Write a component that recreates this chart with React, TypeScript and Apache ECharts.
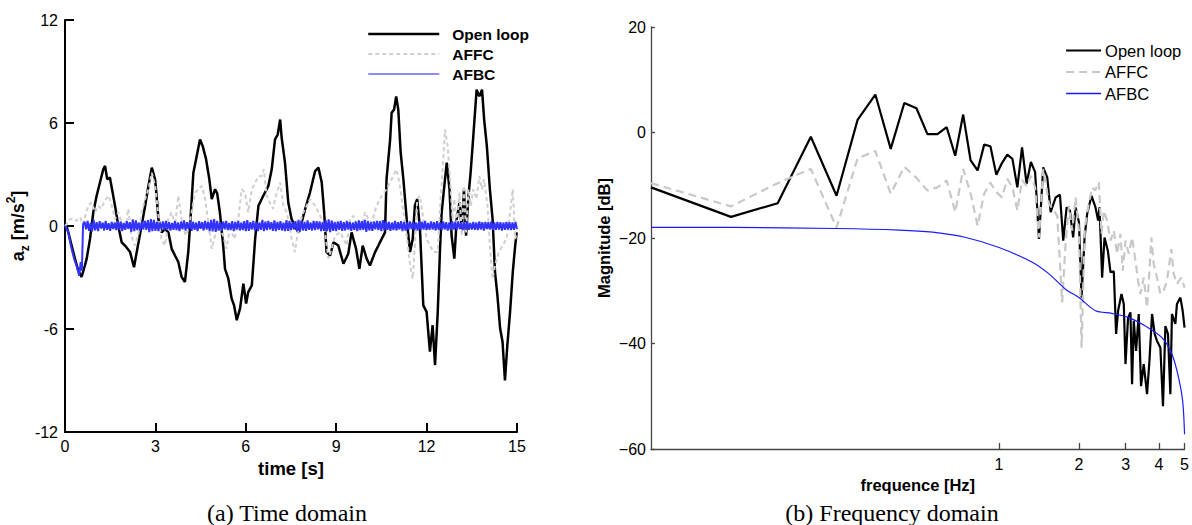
import React, { useEffect, useRef } from "react";
import * as echarts from "echarts";

// ---------- (a) Time domain ----------
const timeOpenLoop = [0,0.05,0.11,0.22,0.33,0.44,0.55,0.66,0.72,0.83,0.94,1.05,1.16,1.27,1.33,1.4,1.49,1.6,1.66,1.77,1.88,1.99,2.16,2.29,2.4,2.54,2.66,2.77,2.88,2.99,3.04,3.1,3.21,3.32,3.43,3.54,3.65,3.76,3.87,3.98,4.09,4.15,4.26,4.37,4.48,4.57,4.68,4.79,4.87,4.98,5.05,5.14,5.25,5.31,5.42,5.53,5.61,5.7,5.81,5.92,6.01,6.08,6.2,6.31,6.42,6.58,6.75,6.86,6.97,7.06,7.14,7.19,7.3,7.41,7.52,7.63,7.74,7.85,7.97,8.13,8.3,8.41,8.52,8.6,8.68,8.8,8.91,9.07,9.24,9.4,9.51,9.66,9.77,9.88,10.01,10.12,10.29,10.4,10.51,10.62,10.67,10.79,10.84,10.92,10.99,11.06,11.14,11.23,11.34,11.45,11.54,11.61,11.69,11.78,11.89,12.0,12.11,12.2,12.28,12.37,12.45,12.5,12.61,12.67,12.76,12.83,12.92,13.0,13.09,13.17,13.24,13.31,13.39,13.46,13.55,13.66,13.75,13.84,13.91,14.0,14.1,14.19,14.27,14.35,14.44,14.52,14.6,14.68,14.77,14.86,14.94,14.99];
const accOpenLoop = [0,0,-0.37,-1.14,-1.9,-2.6,-2.97,-2.3,-1.9,-0.75,0.8,1.76,2.53,3.3,3.5,2.72,2.82,1.76,1.18,0,-0.95,-1.14,-1.52,-2.4,-1.33,0,1.18,2.34,3.4,2.72,1.76,0.4,-0.37,-0.17,-0.37,-1.33,-1.72,-2.1,-2.97,-3.26,-1.52,0,3.1,4.07,5.04,4.65,3.9,2.72,1.57,2.14,1.9,0.8,-1.14,-2.5,-3.07,-4.23,-4.62,-5.49,-4.8,-3.36,-4.52,-3.85,-3.46,-0.75,1.18,1.76,2.34,3.3,5.04,5.33,6.2,5.14,3.69,1.37,0.4,0,-0.37,0.2,0.98,1.95,3.2,3.4,2.53,0.8,-1.52,-1.72,-0.95,-1.14,-2.2,-1.62,-0.37,-1.33,-2.5,-1.14,-1.9,-2.3,-1.52,-1.14,-0.75,-0.37,2.72,5.04,6.6,6.78,7.55,6.78,4.27,2.72,0.4,-1.52,-0.75,1.18,1.57,-0.17,-4.62,-5.0,-7.32,-5.78,-8.1,-5.0,-1.14,0.8,2.72,3.69,2.14,-0.56,-1.9,0.4,1.37,-0.17,2.14,-0.56,1.76,3.1,5.24,7.94,7.55,7.94,6.2,4.65,2.14,0.4,-2.68,-4.04,-5.97,-6.74,-9.0,-6.94,-5.0,-2.68,-1.14,-0.37];

const timeAFFC = [0,0.05,0.17,0.28,0.39,0.5,0.6,0.77,0.88,1.0,1.1,1.2,1.33,1.45,1.55,1.66,1.77,1.88,2.0,2.1,2.2,2.32,2.43,2.54,2.66,2.77,2.88,2.99,3.1,3.2,3.32,3.43,3.54,3.65,3.76,3.87,4.0,4.09,4.2,4.32,4.43,4.54,4.65,4.77,4.87,4.98,5.09,5.2,5.25,5.36,5.47,5.63,5.75,5.86,5.97,6.08,6.2,6.31,6.42,6.52,6.6,6.69,6.8,6.9,7.0,7.14,7.25,7.36,7.52,7.63,7.74,7.91,8.02,8.13,8.3,8.41,8.52,8.63,8.74,8.85,8.96,9.13,9.24,9.35,9.46,9.57,9.68,9.85,9.96,10.07,10.18,10.34,10.51,10.67,10.84,10.99,11.1,11.23,11.34,11.45,11.54,11.61,11.69,11.78,11.89,12.0,12.11,12.23,12.37,12.45,12.56,12.61,12.7,12.78,12.86,12.92,13.0,13.09,13.17,13.24,13.31,13.39,13.47,13.55,13.66,13.75,13.84,13.91,14.02,14.1,14.19,14.27,14.4,14.52,14.65,14.77,14.86,14.94,15.0];
const accAFFC = [0,0.1,0.4,0.45,0.3,0.5,0.1,1.18,1.37,0.8,1.18,1.0,1.5,1.76,1.2,0.4,0.8,0.2,-0.2,1.0,-0.56,-1.14,-0.56,0.8,1.57,2.14,3.1,2.34,0.6,-0.75,-1.14,0.4,0.8,0,1.76,0.4,-0.56,-0.17,0.8,1.95,2.14,2.34,1.57,0,-1.33,-0.56,0,-0.4,-0.56,-1.33,-0.17,-0.75,0.4,2.14,1.95,0.8,2.14,2.53,2.9,2.9,3.3,1.76,1.37,1.0,1.76,2.53,1.18,0.8,-0.75,-1.52,-0.17,0.8,1.18,1.57,1.18,0.8,0.4,-0.37,-1.9,-1.33,-0.56,-0.37,-0.75,-1.14,0.4,0.6,0,0,0.8,0.4,0.2,1.18,1.76,2.14,2.72,3.3,2.53,0.8,-0.56,-2.3,-3.07,-1.14,1.57,1.76,0.4,-0.75,-1.14,-1.52,-1.52,1.18,4.07,5.62,4.65,2.72,0.4,1.57,0,1.95,-0.56,2.34,-0.37,2.14,1.18,2.14,1.57,2.9,2.14,2.72,1.18,-1.14,-3.07,-2.3,-1.52,-1.14,-0.75,0.8,2.14,-0.75,-0.4];

const timeAFBCStart = [0,0.1,0.2,0.3,0.4,0.47,0.52,0.56,0.6];
const accAFBCStart = [0,-0.3,-1.2,-1.9,-2.4,-2.9,-2.1,-2.6,0.1];
const afbcSampleStart = 0.65;
const afbcSampleStep = 0.05;
const accAFBCSamples = [
  0.25,-0.2,0.3,-0.28,0.18,-0.32,0.35,-0.25,0.22,-0.3,0.28,-0.15,0.2,-0.26,0.3,-0.22,0.16,-0.28,0.24,-0.18,
  0.2,-0.24,0.3,-0.2,0.26,-0.3,0.18,-0.22,0.28,-0.16,0.22,-0.34,0.38,-0.3,0.32,-0.24,0.2,-0.28,0.26,-0.2,
  0.3,-0.22,0.34,-0.36,0.4,-0.3,0.36,-0.28,0.24,-0.3,0.2,-0.18,0.26,-0.24,0.3,-0.2,0.22,-0.26,0.18,-0.22,
  0.28,-0.24,0.2,-0.3,0.26,-0.2,0.32,-0.26,0.22,-0.18,0.3,-0.28,0.24,-0.22,0.2,-0.3,0.28,-0.16,0.22,-0.26,
  0.3,-0.2,0.24,-0.3,0.36,-0.32,0.4,-0.34,0.3,-0.26,0.22,-0.28,0.26,-0.2,0.3,-0.24,0.18,-0.22,0.28,-0.3,
  0.24,-0.2,0.3,-0.26,0.2,-0.24,0.28,-0.3,0.34,-0.28,0.22,-0.2,0.3,-0.26,0.24,-0.3,0.2,-0.22,0.36,-0.3,
  0.26,-0.24,0.3,-0.2,0.22,-0.28,0.32,-0.3,0.24,-0.22,0.28,-0.26,0.2,-0.3,0.34,-0.28,0.3,-0.24,0.22,-0.2,
  0.28,-0.3,0.36,-0.32,0.3,-0.26,0.24,-0.28,0.32,-0.22,0.2,-0.26,0.3,-0.24,0.28,-0.2,0.26,-0.3,0.22,-0.28,
  0.34,-0.3,0.38,-0.36,0.32,-0.28,0.24,-0.3,0.26,-0.22,0.3,-0.28,0.22,-0.26,0.3,-0.2,0.24,-0.28,0.2,-0.22,
  0.26,-0.3,0.32,-0.24,0.28,-0.22,0.36,-0.34,0.3,-0.26,0.22,-0.28,0.26,-0.2,0.3,-0.24,0.28,-0.3,0.34,-0.26,
  0.3,-0.22,0.24,-0.28,0.2,-0.24,0.3,-0.26,0.22,-0.2,0.28,-0.3,0.24,-0.26,0.2,-0.22,0.26,-0.18,0.22,-0.24,
  0.2,-0.26,0.28,-0.22,0.24,-0.2,0.3,-0.24,0.18,-0.22,0.26,-0.2,0.22,-0.26,0.28,-0.22,0.2,-0.24,0.26,-0.2,
  0.22,-0.26,0.2,-0.24,0.28,-0.2,0.24,-0.22,0.26,-0.18,0.2,-0.24,0.22,-0.2,0.26,-0.22,0.18,-0.2,0.24,-0.22,
  0.2,-0.24,0.26,-0.2,0.22,-0.26,0.24,-0.18,0.22,-0.2,0.26,-0.24,0.2,-0.22,0.24,-0.2,0.22,-0.26,0.2,-0.22,
  0.24,-0.2,0.22,-0.24,0.2,-0.22,0.24,-0.18
];
const timeTicks = { min: 0, max: 15, interval: 3 };
const accTicks = { min: -12, max: 12, interval: 6 };

// ---------- (b) Frequency domain ----------
const freqOpenLoop = [0.0488,0.0977,0.1465,0.1953,0.2441,0.293,0.3418,0.3906,0.4395,0.4883,0.5371,0.5859,0.6348,0.6836,0.7324,0.7813,0.8301,0.8789,0.9277,0.9766,1.0254,1.0742,1.123,1.1719,1.2207,1.2695,1.3184,1.3672,1.414,1.467,1.519,1.565,1.634,1.696,1.745,1.797,1.849,1.902,1.943,2.0,2.046,2.1,2.148,2.231,2.309,2.362,2.391,2.445,2.497,2.57,2.63,2.706,2.761,2.809,2.893,2.951,2.995,3.063,3.127,3.171,3.218,3.283,3.36,3.428,3.509,3.611,3.687,3.771,3.859,3.937,4.054,4.147,4.234,4.331,4.421,4.482,4.616,4.681,4.823,4.919,5.0];
const dbOpenLoop = [-10.4,-16.0,-13.4,-0.8,-12.0,2.4,7.2,-3.1,5.6,4.6,-0.3,-0.3,1.0,-4.4,3.4,-5.3,-7.2,-2.3,-2.6,-8.0,-5.8,-4.2,-5.0,-10.4,-2.8,-9.7,-5.6,-7.5,-20.2,-6.6,-8.5,-15.1,-12.3,-11.8,-20.5,-14.2,-14.8,-19.9,-14.2,-17.0,-31.3,-19.9,-15.4,-12.0,-14.2,-16.7,-14.2,-27.5,-19.9,-22.4,-26.5,-26.3,-38.2,-33.8,-30.6,-32.5,-43.9,-35.1,-34.1,-47.7,-35.7,-41.4,-34.4,-48.1,-43.9,-49.6,-43.3,-34.4,-38.2,-39.5,-40.8,-51.9,-36.7,-38.2,-49.6,-34.4,-36.3,-32.5,-31.3,-33.8,-37.0];

const freqAFFC = [0.0488,0.0977,0.1465,0.1953,0.2441,0.293,0.3418,0.3906,0.4395,0.4883,0.5371,0.5859,0.6348,0.6836,0.7324,0.7813,0.8301,0.8789,0.9277,0.9766,1.0254,1.0742,1.123,1.1719,1.2207,1.2695,1.3184,1.3672,1.414,1.467,1.542,1.657,1.729,1.781,1.833,1.886,1.943,2.0,2.046,2.105,2.166,2.243,2.3,2.376,2.433,2.483,2.554,2.63,2.706,2.785,2.868,2.926,2.995,3.081,3.171,3.266,3.34,3.41,3.509,3.611,3.68,3.751,3.825,3.937,4.054,4.173,4.293,4.459,4.549,4.681,4.864,5.0];
const dbAFFC = [-9.6,-14.0,-9.6,-6.9,-18.0,-4.9,-3.5,-11.6,-6.5,-8.6,-11.0,-10.4,-9.1,-15.1,-6.9,-11.6,-17.7,-11.6,-9.5,-11.3,-12.3,-8.8,-10.4,-14.8,-9.0,-10.1,-8.2,-10.4,-19.9,-6.9,-13.5,-15.8,-32.2,-21.1,-13.9,-18.6,-12.3,-18.6,-40.8,-18.0,-14.2,-10.4,-11.0,-9.4,-19.2,-14.8,-16.7,-20.5,-18.6,-23.0,-19.2,-26.2,-20.5,-23.0,-19.9,-24.3,-28.1,-30.6,-27.5,-33.2,-27.0,-19.9,-24.9,-27.5,-30.6,-30.0,-28.1,-22.1,-26.8,-28.7,-27.5,-29.4];

const freqAFBC = [0.0488,0.0977,0.2441,0.4206,0.5614,0.7498,1.0,1.334,1.542,1.781,2.0,2.31,2.66,3.08,3.56,4.11,4.48,4.75,4.92,5.0];
const dbAFBC = [-18.0,-18.0,-18.2,-18.5,-18.9,-19.9,-21.8,-24.6,-26.8,-29.7,-31.3,-33.8,-34.3,-35.1,-36.7,-38.9,-42.0,-46.5,-50.9,-57.2];

const freqTickValues = [1, 2, 3, 4, 5];
const freqRange = { min: 0.0488, max: 5 };
const dbTicks = { min: -60, max: 20, interval: 20 };

const seriesNames = ["Open loop", "AFFC", "AFBC"];
const captions = ["(a) Time domain", "(b) Frequency domain"];

const zip = (xs: number[], ys: number[]) =>
  xs.slice(0, Math.min(xs.length, ys.length)).map((x, i) => [x, ys[i]]);

const FONT = "Liberation Sans, Arial, Helvetica, sans-serif";
const SERIF = "Liberation Serif, Times New Roman, serif";

const BLUE_L = "#3333ff";
const BLUE_R = "#1a1aff";

function buildOption() {
  const afbcTime = [
    ...zip(timeAFBCStart, accAFBCStart),
    ...accAFBCSamples.map((v, i) => [afbcSampleStart + i * afbcSampleStep, v]),
  ];
  const noSym = { symbol: "none", showSymbol: false };
  return {
    animation: false,
    backgroundColor: "#ffffff",
    textStyle: { fontFamily: FONT },
    grid: [
      { left: 65, top: 20, width: 452, height: 412 },
      { left: 651, top: 27, width: 535, height: 422 },
    ],
    xAxis: [
      {
        gridIndex: 0,
        type: "value",
        ...timeTicks,
        axisLine: { show: true, onZero: false, lineStyle: { color: "#000", width: 2 } },
        axisTick: { show: true, inside: true, length: 9, lineStyle: { color: "#000", width: 2 } },
        axisLabel: { fontFamily: FONT, fontSize: 16, color: "#000", margin: 6 },
        splitLine: { show: false },
        name: "time [s]",
        nameLocation: "middle",
        nameGap: 21,
        nameTextStyle: { fontFamily: FONT, fontWeight: "bold", fontSize: 18.5, color: "#000" },
      },
      {
        gridIndex: 1,
        type: "log",
        logBase: 10,
        ...freqRange,
        axisLine: { show: true, onZero: false, lineStyle: { color: "#444", width: 1.3 } },
        axisTick: { show: true, inside: true, length: 6, customValues: freqTickValues, lineStyle: { color: "#444", width: 1.3 } },
        axisLabel: {
          customValues: freqTickValues,
          fontFamily: FONT, fontSize: 16, color: "#000", margin: 7,
          formatter: (v: number) => String(Math.round(v)),
        },
        splitLine: { show: false },
        minorTick: { show: false },
        name: "frequence [Hz]",
        nameLocation: "middle",
        nameGap: 23,
        nameTextStyle: { fontFamily: FONT, fontWeight: "bold", fontSize: 16.5, color: "#000" },
      },
    ],
    yAxis: [
      {
        gridIndex: 0,
        type: "value",
        ...accTicks,
        axisLine: { show: true, onZero: false, lineStyle: { color: "#000", width: 2 } },
        axisTick: { show: true, inside: true, length: 9, lineStyle: { color: "#000", width: 2 } },
        axisLabel: { fontFamily: FONT, fontSize: 16, color: "#000", margin: 7 },
        splitLine: { show: false },
        name: "{b|a}{sub|z}{b| [m/s}{sup|2}{b|]}",
        nameLocation: "middle",
        nameGap: 21,
        nameRotate: 90,
        nameTextStyle: {
          fontFamily: FONT, fontWeight: "bold", fontSize: 18, color: "#000",
          rich: {
            b: { fontFamily: FONT, fontWeight: "bold", fontSize: 18, color: "#000", lineHeight: 26 },
            sub: { fontFamily: FONT, fontWeight: "bold", fontSize: 12, color: "#000", verticalAlign: "bottom" },
            sup: { fontFamily: FONT, fontWeight: "bold", fontSize: 12, color: "#000", verticalAlign: "top" },
          },
        },
      },
      {
        gridIndex: 1,
        type: "value",
        ...dbTicks,
        axisLine: { show: true, onZero: false, lineStyle: { color: "#444", width: 1.3 } },
        axisTick: { show: true, inside: true, length: 4, lineStyle: { color: "#444", width: 1.3 } },
        axisLabel: {
          fontFamily: FONT, fontSize: 16, color: "#000", margin: 5,
          formatter: (v: number) => String(v).replace("-", "\u2212"),
        },
        splitLine: { show: false },
        name: "Magnitude [dB]",
        nameLocation: "middle",
        nameGap: 39,
        nameRotate: 90,
        nameTextStyle: { fontFamily: FONT, fontWeight: "bold", fontSize: 16.5, color: "#000" },
      },
    ],
    legend: [
      {
        orient: "vertical",
        left: 362,
        top: 21,
        itemWidth: 71,
        itemHeight: 14,
        itemGap: 4,
        selectedMode: false,
        textStyle: { fontFamily: FONT, fontWeight: "bold", fontSize: 15.5, color: "#000", padding: [0, 0, 0, 8] },
        data: [
          { name: seriesNames[0], itemStyle: { opacity: 0 }, lineStyle: { color: "#000", width: 2.5, type: "solid" } },
          { name: seriesNames[1], itemStyle: { opacity: 0 }, lineStyle: { color: "#cfcfcf", width: 2, type: [4, 3] } },
          { name: seriesNames[2], itemStyle: { opacity: 0 }, lineStyle: { color: "#8c8cff", width: 2, type: "solid" } },
        ],
      },
      {
        orient: "vertical",
        left: 1060,
        top: 37,
        itemWidth: 35,
        itemHeight: 14,
        itemGap: 4.5,
        selectedMode: false,
        textStyle: { fontFamily: FONT, fontSize: 16.5, color: "#000", padding: [0, 0, 0, -1] },
        data: [
          { name: seriesNames[0], itemStyle: { opacity: 0 }, lineStyle: { color: "#000", width: 2.2, type: "solid" } },
          { name: seriesNames[1], itemStyle: { opacity: 0 }, lineStyle: { color: "#c8c8c8", width: 2.2, type: [8, 5] } },
          { name: seriesNames[2], itemStyle: { opacity: 0, color: BLUE_R }, lineStyle: { color: BLUE_R, width: 1.5, type: "solid", opacity: 1 } },
        ],
      },
    ],
    series: [
      {
        name: seriesNames[0], type: "line", xAxisIndex: 0, yAxisIndex: 0, ...noSym,
        data: zip(timeOpenLoop, accOpenLoop),
        lineStyle: { color: "#000", width: 2.5 }, itemStyle: { color: "#000" }, z: 2,
      },
      {
        name: seriesNames[1], type: "line", xAxisIndex: 0, yAxisIndex: 0, ...noSym,
        data: zip(timeAFFC, accAFFC),
        lineStyle: { color: "#cfcfcf", width: 2, type: [4, 3] }, itemStyle: { color: "#cfcfcf" }, z: 3,
      },
      {
        name: seriesNames[2], type: "line", xAxisIndex: 0, yAxisIndex: 0, ...noSym,
        data: afbcTime,
        lineStyle: { color: BLUE_L, width: 2 }, itemStyle: { color: BLUE_L }, z: 4,
      },
      {
        name: seriesNames[0], type: "line", xAxisIndex: 1, yAxisIndex: 1, ...noSym,
        data: zip(freqOpenLoop, dbOpenLoop),
        lineStyle: { color: "#000", width: 2.2 }, itemStyle: { color: "#000" }, z: 2,
      },
      {
        name: seriesNames[1], type: "line", xAxisIndex: 1, yAxisIndex: 1, ...noSym,
        data: zip(freqAFFC, dbAFFC),
        lineStyle: { color: "#c8c8c8", width: 2.2, type: [8, 5] }, itemStyle: { color: "#c8c8c8" }, z: 3,
      },
      {
        name: seriesNames[2], type: "line", xAxisIndex: 1, yAxisIndex: 1, ...noSym,
        data: zip(freqAFBC, dbAFBC), smooth: 0.3,
        lineStyle: { color: BLUE_R, width: 1.2 }, itemStyle: { color: BLUE_R }, z: 4,
      },
    ],
    graphic: [
      {
        type: "text", x: 287, y: 513,
        style: { text: captions[0], font: `24px ${SERIF}`, fill: "#000", align: "center", verticalAlign: "middle", textAlign: "center", textVerticalAlign: "middle" },
      },
      {
        type: "text", x: 892, y: 513,
        style: { text: captions[1], font: `24px ${SERIF}`, fill: "#000", align: "center", verticalAlign: "middle", textAlign: "center", textVerticalAlign: "middle" },
      },
    ],
  };
}

export default function App() {
  const ref = useRef<HTMLDivElement>(null);
  useEffect(() => {
    if (!ref.current) return;
    const chart = echarts.init(ref.current, null, { renderer: "svg" });
    chart.setOption(buildOption() as any);
    return () => chart.dispose();
  }, []);
  return (
    <div
      ref={ref}
      style={{ position: "fixed", left: 0, top: 0, width: 1192, height: 525, background: "#fff" }}
    />
  );
}
